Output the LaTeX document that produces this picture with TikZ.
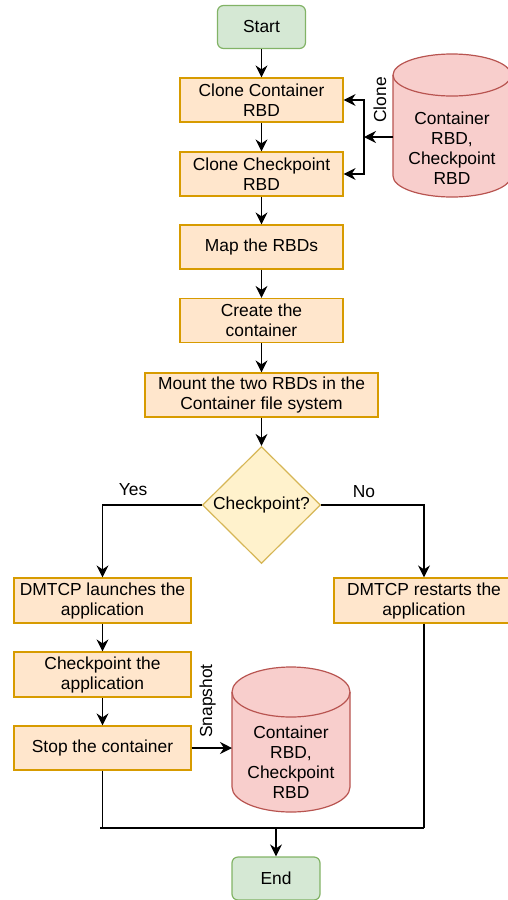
\documentclass[tikz,border=0pt]{standalone}
\usepackage{fontspec}
\setmainfont{Liberation Sans}
\usetikzlibrary{shapes.geometric,arrows.meta}
\definecolor{boxfill}{HTML}{FFE6CC}
\definecolor{boxline}{HTML}{D79B00}
\definecolor{grfill}{HTML}{D5E8D4}
\definecolor{grline}{HTML}{82B366}
\definecolor{dmfill}{HTML}{FFF2CC}
\definecolor{dmline}{HTML}{D6B656}
\definecolor{cyfill}{HTML}{F8CECC}
\definecolor{cyline}{HTML}{B85450}
\tikzset{
  txt/.style={font=\fontsize{17.4}{20}\selectfont, align=center, inner sep=0pt},
  stepbox/.style={txt, draw=boxline, fill=boxfill, line width=1.2pt, minimum height=44pt},
  term/.style={txt, draw=grline, fill=grfill, line width=1.2pt, rounded corners=6pt, minimum width=88pt, minimum height=43pt},
  conn/.style={line width=1.3pt, draw=black},
  arr/.style={conn, -{Stealth[length=12pt,width=12pt,inset=4pt]}},
  cyl/.style={draw=cyline, fill=cyfill, line width=1.2pt},
}
\begin{document}
\begin{tikzpicture}[x=1pt,y=-1pt]
\useasboundingbox (0,0) rectangle (508,900);
\clip (0,0) rectangle (508,900);

% terminals and steps
\node[term] (start) at (261.5,27) {Start};
\node[stepbox, minimum width=163pt] (b1) at (261.5,100) {Clone Container\\RBD};
\node[stepbox, minimum width=163pt] (b2) at (261.5,174) {Clone Checkpoint\\RBD};
\node[stepbox, minimum width=163pt] (map) at (261.5,247) {Map the RBDs};
\node[stepbox, minimum width=163pt] (create) at (261.5,320.5) {Create the\\container};
\node[stepbox, minimum width=233pt] (mount) at (261.5,395) {Mount the two RBDs in the\\Container file system};
\node[diamond, draw=dmline, fill=dmfill, line width=1.2pt, minimum width=118pt, minimum height=117pt, inner sep=0pt] (dia) at (261.5,505) {};
\node[txt] (diat) at (dia.center) {Checkpoint?};
\node[stepbox, minimum width=177pt, minimum height=45pt] (launch) at (102.5,600.5) {DMTCP launches the\\application};
\node[stepbox, minimum width=180pt, minimum height=45pt] (restart) at (424,600.5) {DMTCP restarts the\\application};
\node[stepbox, minimum width=177pt, minimum height=45pt] (ckpt) at (102.5,674.5) {Checkpoint the\\application};
\node[stepbox, minimum width=177pt] (stop) at (102.5,748) {Stop the container};
\node[term] (end) at (276,878.5) {End};

% top cylinder
\path[cyl] (393,75) -- (393,176) .. controls (393,187.6) and (419.4,197) .. (452,197)
  .. controls (484.6,197) and (511,187.6) .. (511,176) -- (511,75)
  .. controls (511,63.4) and (484.6,54) .. (452,54)
  .. controls (419.4,54) and (393,63.4) .. (393,75) -- cycle;
\draw[draw=cyline, line width=1.2pt] (393,75) .. controls (393,86.6) and (419.4,96) .. (452,96)
  .. controls (484.6,96) and (511,86.6) .. (511,75);
\node[txt] (cyl1) at (452,148) {Container\\RBD,\\Checkpoint\\RBD};
\coordinate (cyl1w) at (393,137);

% bottom cylinder
\path[cyl] (232,692) -- (232,787) .. controls (232,800.8) and (258.4,812) .. (291,812)
  .. controls (323.6,812) and (350,800.8) .. (350,787) -- (350,692)
  .. controls (350,678.2) and (323.6,667) .. (291,667)
  .. controls (258.4,667) and (232,678.2) .. (232,692) -- cycle;
\draw[draw=cyline, line width=1.2pt] (232,692) .. controls (232,705.8) and (258.4,717) .. (291,717)
  .. controls (323.6,717) and (350,705.8) .. (350,692);
\node[txt] (cyl2) at (291,762) {Container\\RBD,\\Checkpoint\\RBD};
\coordinate (cyl2w) at (232,748);

% main column connectors
\draw[arr] (start.south) -- (b1.north);
\draw[arr] (b1.south) -- (b2.north);
\draw[arr] (b2.south) -- (map.north);
\draw[arr] (map.south) -- (create.north);
\draw[arr] (create.south) -- (mount.north);
\draw[arr] (mount.south) -- (dia.north);

% clone connectors
\coordinate (j) at (364,137);
\draw[arr] (cyl1w) -- (j);
\draw[arr] (j) |- (b1.east);
\draw[arr] (j) |- (b2.east);
\node[txt, rotate=90] (clonelbl) at (380,100) {Clone};

% decision branches
\draw[arr] (dia.west) -| (launch.north);
\draw[arr] (dia.east) -| (restart.north);
\node[txt] (yes) at (133,490) {Yes};
\node[txt] (no) at (364,492) {No};

% left branch
\draw[arr] (launch.south) -- (ckpt.north);
\draw[arr] (ckpt.south) -- (stop.north);
\draw[arr] (stop.east) -- (cyl2w);
\node[txt, rotate=90] (snaplbl) at (207.5,701) {Snapshot};

% merge
\coordinate (m1) at (100,828);
\coordinate (m2) at (424,828);
\coordinate (mj) at (276,828);
\draw[conn] (stop.south) -- (stop.south |- m1);
\draw[conn] (restart.south) -- (m2);
\draw[conn] (m1) -- (m2);
\draw[arr] (mj) -- (end.north);
\end{tikzpicture}
\end{document}
